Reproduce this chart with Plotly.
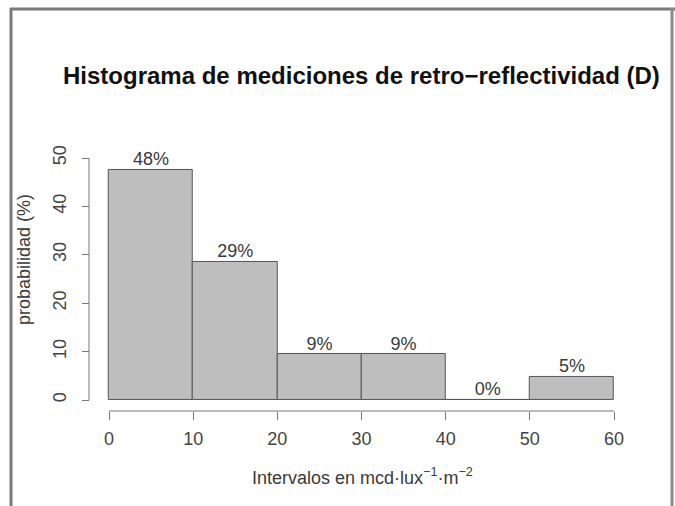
import plotly.graph_objects as go

# histogram bins (mcd·lux-1·m-2) and probability per bin (%)
bin_starts = [0, 10, 20, 30, 40, 50]
bin_width = 10
probabilidad = [47.6, 28.6, 9.5, 9.5, 0.0, 4.8]
etiquetas = ["48%", "29%", "9%", "9%", "0%", "5%"]
x_ticks = [0, 10, 20, 30, 40, 50, 60]
y_ticks = [0, 10, 20, 30, 40, 50]

W, H = 675, 506
FONT = "Liberation Sans, Arial, sans-serif"
GRIS = "#777777"

centros = [b + bin_width / 2 for b in bin_starts]

# pixel layout of the R plot region
x0_px, x60_px = 109, 614
y0_px, y50_px = 400, 158
xr = [-3, 63]
yr = [-3, 56]
px_x = (x60_px - x0_px) / 60
px_y = (y0_px - y50_px) / 50
x_dom = [(x0_px + xr[0] * px_x) / W, (x0_px + xr[1] * px_x) / W]
y_dom = [1 - (y0_px - yr[0] * px_y) / H, 1 - (y0_px - yr[1] * px_y) / H]
xaxis_pos = 1 - 411 / H
yaxis_pos = 89 / W

fig = go.Figure()
fig.add_trace(go.Bar(
    x=centros, y=probabilidad, width=bin_width,
    marker=dict(color="#bebebe", line=dict(color="#555555", width=1)),
    hoverinfo="skip",
))
fig.add_trace(go.Scatter(
    x=centros, y=probabilidad, mode="text", text=etiquetas,
    textposition="top center",
    textfont=dict(family=FONT, size=18, color="#3a3a3a"),
    hoverinfo="skip", cliponaxis=False,
))

shapes = [
    # axis lines limited to data extent (R style)
    dict(type="line", xref="x", yref="paper", x0=0, x1=60, y0=xaxis_pos, y1=xaxis_pos,
         line=dict(color=GRIS, width=1)),
    dict(type="line", xref="paper", yref="y", x0=yaxis_pos, x1=yaxis_pos, y0=0, y1=50,
         line=dict(color=GRIS, width=1)),
    # screenshot frame
    dict(type="line", xref="paper", yref="paper", x0=10 / W, x1=1, y0=1 - 9 / H, y1=1 - 9 / H,
         line=dict(color="#7a7a7a", width=3)),
    dict(type="line", xref="paper", yref="paper", x0=11 / W, x1=11 / W, y0=0, y1=1 - 8 / H,
         line=dict(color="#7a7a7a", width=3)),
    dict(type="line", xref="paper", yref="paper", x0=672 / W, x1=672 / W, y0=0, y1=1 - 8 / H,
         line=dict(color="#8a8a8a", width=3)),
]

fig.update_layout(
    width=W, height=H,
    margin=dict(l=0, r=0, t=0, b=0),
    paper_bgcolor="white", plot_bgcolor="white",
    showlegend=False,
    bargap=0,
    font=dict(family=FONT, size=18, color="#3a3a3a"),
    shapes=shapes,
    xaxis=dict(
        domain=x_dom, range=xr, anchor="free", position=xaxis_pos,
        tickmode="array", tickvals=x_ticks,
        ticks="outside", ticklen=8, tickcolor=GRIS, ticklabelstandoff=3,
        showline=False, showgrid=False, zeroline=False,
        tickfont=dict(family=FONT, size=18, color="#444444"),
    ),
    yaxis=dict(
        domain=y_dom, range=yr, anchor="free", position=yaxis_pos,
        tickmode="array", tickvals=y_ticks, tickangle=-90,
        ticks="outside", ticklen=7, tickcolor=GRIS, ticklabelstandoff=9,
        showline=False, showgrid=False, zeroline=False,
        tickfont=dict(family=FONT, size=18, color="#444444"),
    ),
    annotations=[
        dict(text="<b>Histograma de mediciones de retro\u2212reflectividad (D)</b>",
             xref="paper", yref="paper", x=361 / W, y=1 - 75 / H,
             showarrow=False, xanchor="center", yanchor="middle",
             font=dict(family=FONT, size=24, color="#111111")),
        dict(text="Intervalos en mcd\u00b7lux<sup>\u22121</sup>\u00b7m<sup>\u22122</sup>",
             xref="paper", yref="paper", x=362 / W, y=1 - 476 / H,
             showarrow=False, xanchor="center", yanchor="middle",
             font=dict(family=FONT, size=18, color="#3a3a3a")),
        dict(text="probabilidad (%)", textangle=-90,
             xref="paper", yref="paper", x=24 / W, y=1 - 260 / H,
             showarrow=False, xanchor="center", yanchor="middle",
             font=dict(family=FONT, size=18, color="#3a3a3a")),
    ],
)

fig.write_html("out.html", config={"displayModeBar": False},
               post_script="document.body.style.margin='0';")
